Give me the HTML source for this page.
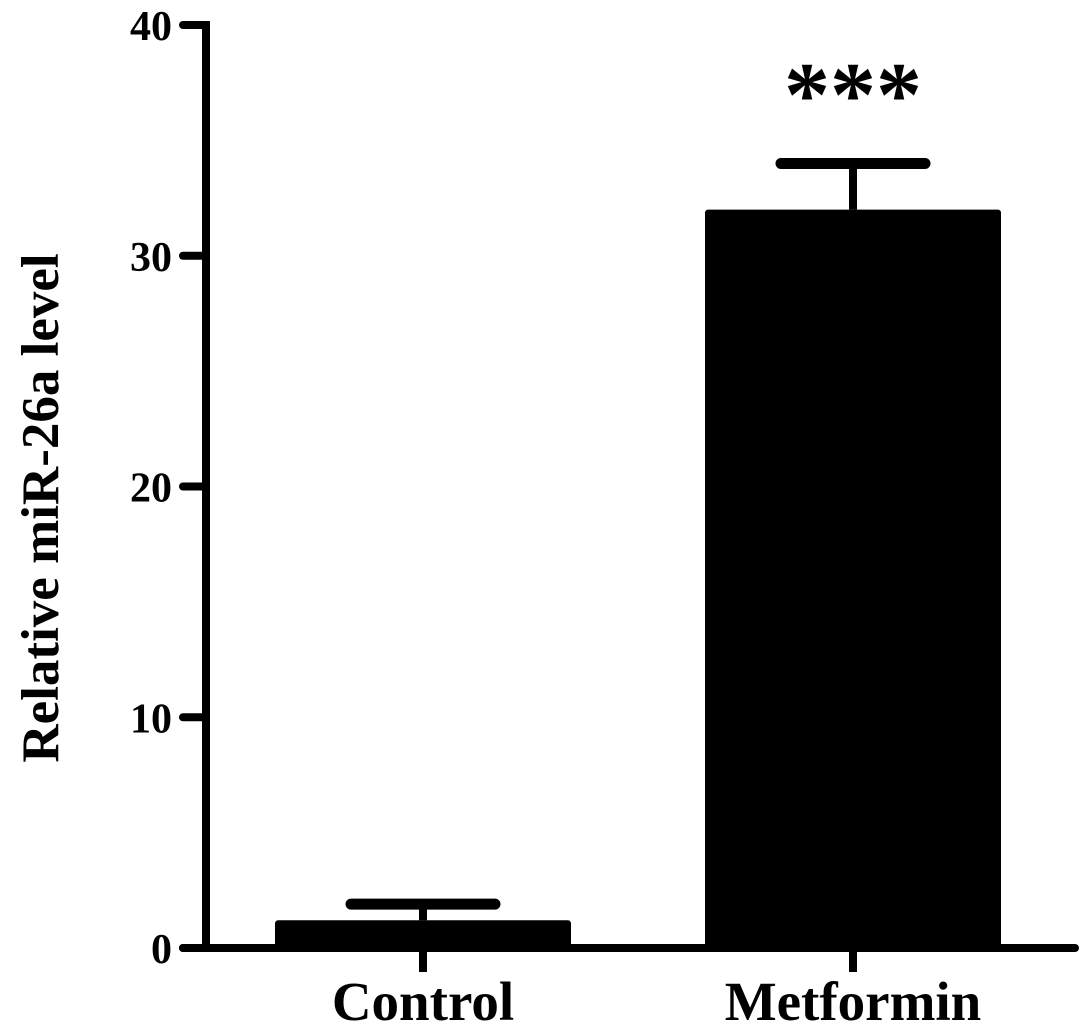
<!DOCTYPE html>
<html><head><meta charset="utf-8"><style>
html,body{margin:0;padding:0;background:#fff;}
svg{display:block;}
text{font-family:"Liberation Serif",serif;font-weight:bold;fill:#000;}
</style></head><body>
<svg id="chart" width="1087" height="1035">
<text transform="translate(58,508) rotate(-90)" text-anchor="middle" font-size="53">Relative miR-26a level</text>
</svg>
<script>
const categories=["Control","Metformin"];
const values=[1.2,32.0];
const errors=[0.7,2.0];
const yTicks=[0,10,20,30,40];
const sig=["","***"];
const NS="http://www.w3.org/2000/svg";
const svg=document.getElementById('chart');
const x0=206,y0=948,yTop=25;
const y=v=>y0-(v/40)*(y0-yTop);
const centers=[423,853];
const bw=296;
function el(t,a){const e=document.createElementNS(NS,t);for(const k in a)e.setAttribute(k,a[k]);svg.appendChild(e);return e;}
yTicks.forEach(t=>{
  const l=el('line',{x1:183,x2:x0,y1:y(t),y2:y(t),stroke:'#000','stroke-width':8,'stroke-linecap':'round'});
  
  
  const tx=el('text',{x:172,y:y(t)+15,'text-anchor':'end','font-size':42});
  tx.textContent=t;
  
  
});
categories.forEach((c,i)=>{
  const cx=centers[i];
  const b=el('rect',{x:cx-bw/2,y:y(values[i]),width:bw,height:y0-y(values[i]),fill:'#000',rx:3});
  
  
  const ev=el('line',{x1:cx,x2:cx,y1:y(values[i]),y2:y(values[i]+errors[i]),stroke:'#000','stroke-width':8});
  
  
  const cap=el('line',{x1:cx-72,x2:cx+72,y1:y(values[i]+errors[i]),y2:y(values[i]+errors[i]),stroke:'#000','stroke-width':11,'stroke-linecap':'round'});
  
  
  const tk=el('line',{x1:cx,x2:cx,y1:y0,y2:972,stroke:'#000','stroke-width':8});
  
  
  const lb=el('text',{x:cx,y:1020,'text-anchor':'middle','font-size':55});
  lb.textContent=c;
  
  
  if(sig[i]){
    const s=el('text',{x:cx,y:y(values[i]+errors[i])-38,'text-anchor':'middle','font-size':92});
    s.textContent=sig[i];
    
    
  }
});
const ya=el('line',{x1:x0,x2:x0,y1:yTop-4,y2:y0+4,stroke:'#000','stroke-width':8});


const xa=el('line',{x1:183,x2:1075,y1:y0,y2:y0,stroke:'#000','stroke-width':8,'stroke-linecap':'round'});


</script>
</body></html>
